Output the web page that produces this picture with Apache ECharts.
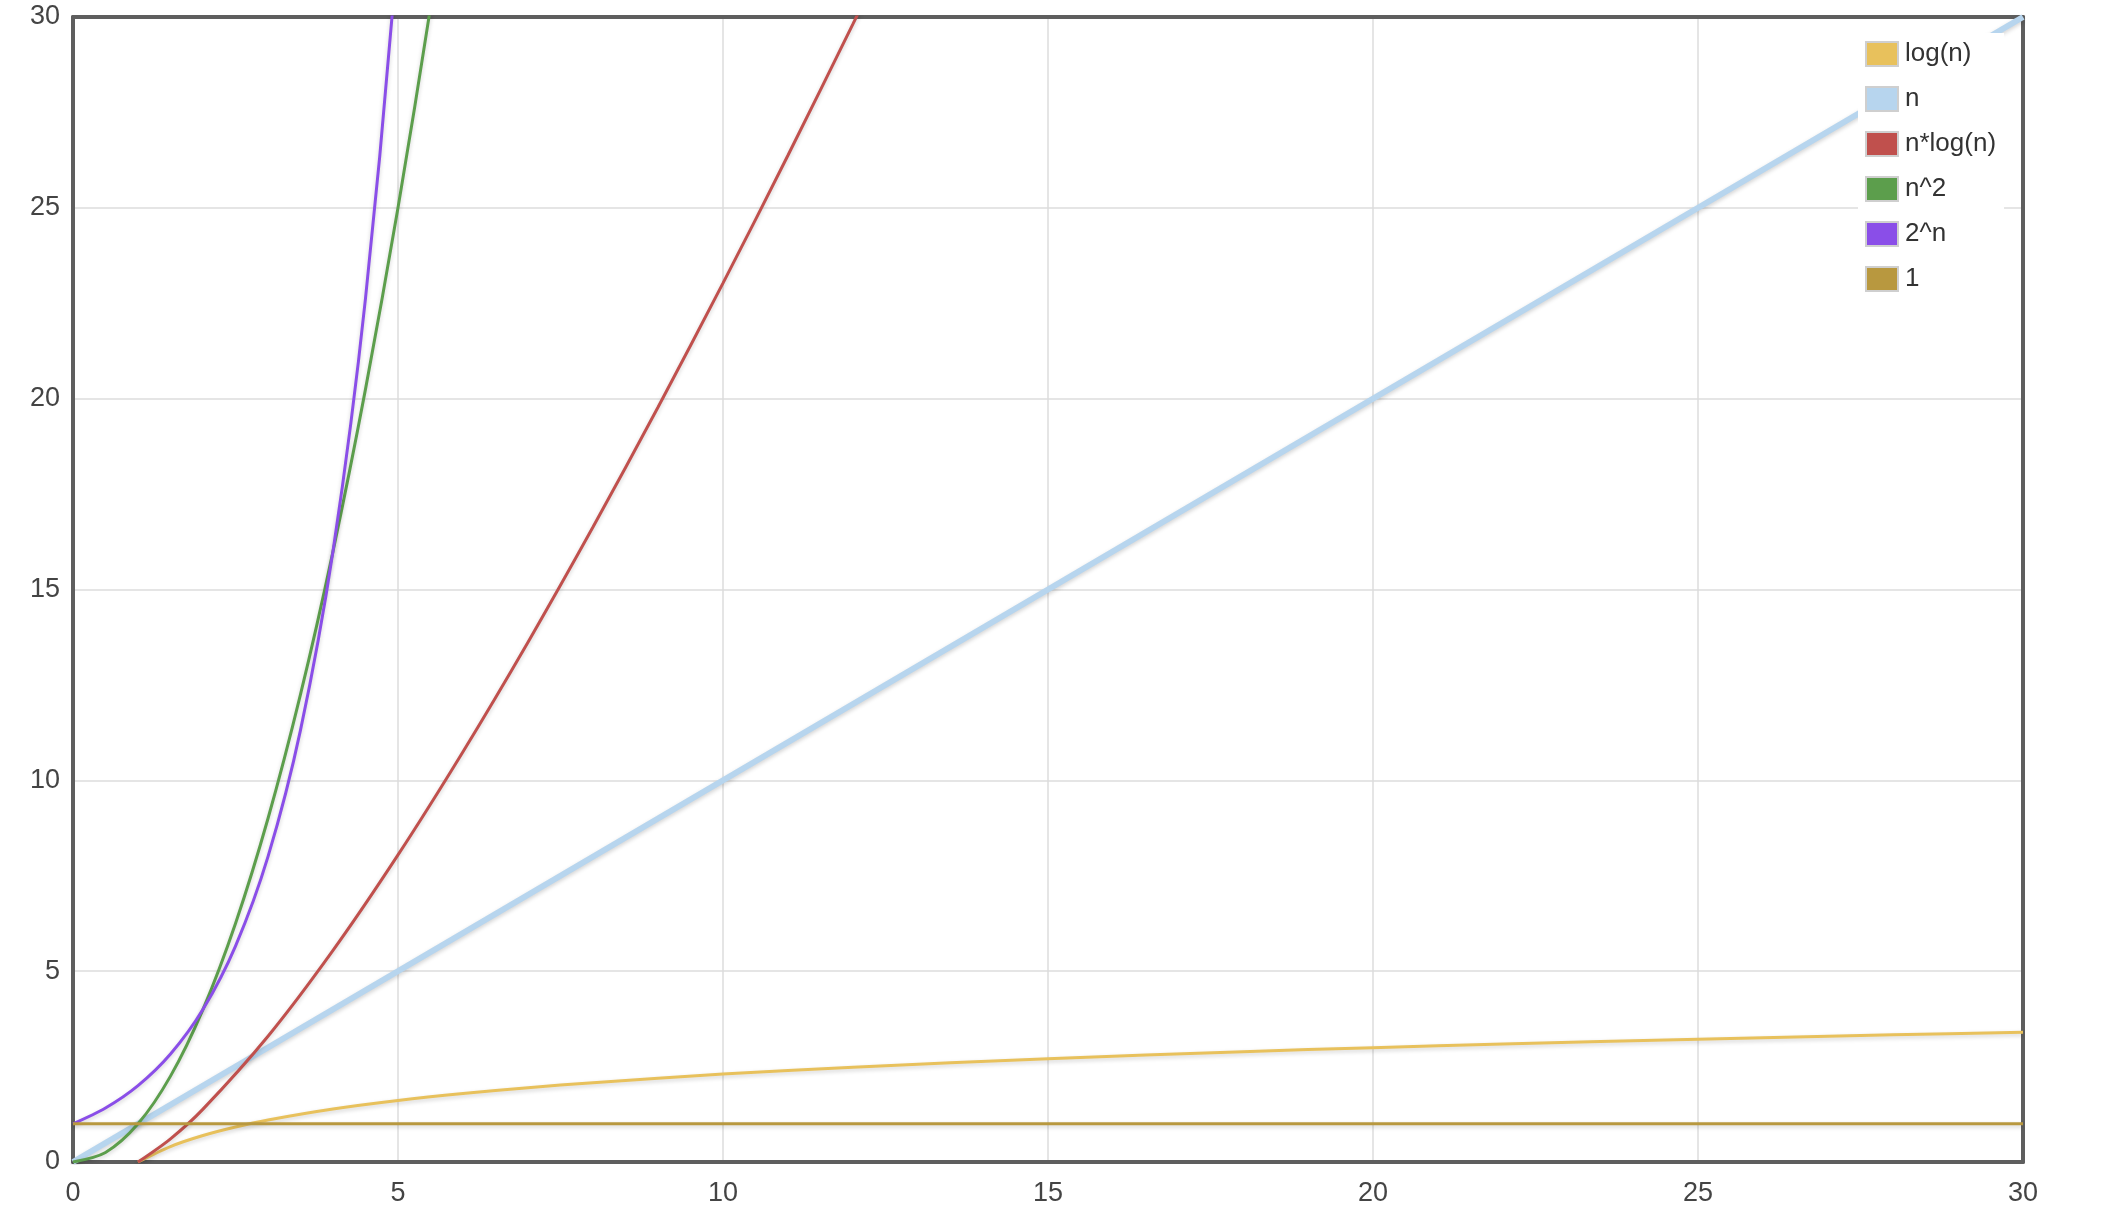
<!DOCTYPE html>
<html>
<head>
<meta charset="utf-8">
<script src="https://cdn.jsdelivr.net/npm/echarts@6/dist/echarts.min.js"></script>
<style>
  html, body { margin: 0; padding: 0; background: #fff; }
  #chart { width: 2106px; height: 1214px; }
</style>
</head>
<body>
<div id="chart"></div>
<script>
const seriesNames = ['log(n)', 'n', 'n*log(n)', 'n^2', '2^n', '1']
const colors = ['#e8c15c', '#b7d5ee', '#c0504d', '#5c9e4c', '#8a4ee8', '#b8983f']

const xTicks = [0, 5, 10, 15, 20, 25, 30]

// log(n)
const logX = [1, 1.5, 2, 2.5, 3, 4, 5, 6, 7, 8, 10, 12, 15, 18, 20, 22, 25, 28, 30]
const logY = [0, 0.405, 0.693, 0.916, 1.099, 1.386, 1.609, 1.792, 1.946, 2.079, 2.303, 2.485, 2.708, 2.89, 2.996, 3.091, 3.219, 3.332, 3.401]
// n
const linX = [0, 30]
const linY = [0, 30]
// n*log(n)
const nlogX = [1, 1.5, 2, 3, 4, 5, 6, 7, 8, 9, 10, 11, 12, 12.5]
const nlogY = [0, 0.608, 1.386, 3.296, 5.545, 8.047, 10.751, 13.621, 16.636, 19.775, 23.026, 26.377, 29.819, 31.572]
// n^2
const sqX = [0, 0.5, 1, 1.5, 2, 2.5, 3, 3.5, 4, 4.5, 5, 5.5, 6]
const sqY = [0, 0.25, 1, 2.25, 4, 6.25, 9, 12.25, 16, 20.25, 25, 30.25, 36]
// 2^n
const expX = [0, 0.5, 1, 1.5, 2, 2.5, 3, 3.5, 4, 4.5, 5, 5.5]
const expY = [1, 1.414, 2, 2.828, 4, 5.657, 8, 11.314, 16, 22.627, 32, 45.255]
// 1
const oneX = [0, 30]
const oneY = [1, 1]

const xs = [logX, linX, nlogX, sqX, expX, oneX]
const ys = [logY, linY, nlogY, sqY, expY, oneY]
const widths = [3, 6, 3, 3, 3, 3]

const chart = echarts.init(document.getElementById('chart'))

const series = seriesNames.map((name, i) => ({
  name: name,
  type: 'line',
  smooth: 0.3,
  showSymbol: false,
  symbol: 'none',
  clip: true,
  color: colors[i],
  lineStyle: {
    width: widths[i],
    color: colors[i],
    shadowColor: 'rgba(0,0,0,0.18)',
    shadowBlur: 4,
    shadowOffsetY: 2,
  },
  data: xs[i].map((x, k) => [x, ys[i][k]]),
}))

// frame lines on all four sides, drawn above the split lines
const frame = { show: true, onZero: false, lineStyle: { color: '#5e5e5e', width: 4 } }

chart.setOption({
  animation: false,
  grid: {
    left: 73,
    top: 17,
    right: 83,
    bottom: 52,
  },
  legend: {
    orient: 'vertical',
    left: 1858,
    top: 33,
    padding: [8, 8, 8, 7],
    backgroundColor: '#fff',
    icon: 'rect',
    itemWidth: 32,
    itemHeight: 24,
    itemGap: 19,
    itemStyle: { borderColor: '#cfcfcf', borderWidth: 2 },
    textStyle: { fontSize: 26, color: '#333', fontFamily: 'Liberation Sans', padding: [0, 0, 0, 2] },
    data: seriesNames,
  },
  xAxis: [
    {
      type: 'value',
      min: xTicks[0],
      max: xTicks[xTicks.length - 1],
      interval: 5,
      axisLine: frame,
      axisTick: { show: false },
      axisLabel: { fontSize: 27, color: '#444', margin: 18, fontFamily: 'Liberation Sans' },
      splitLine: { show: true, lineStyle: { color: '#dcdcdc', width: 1.5 } },
    },
    {
      type: 'value',
      position: 'top',
      min: 0,
      max: 30,
      interval: 5,
      axisLine: frame,
      axisTick: { show: false },
      axisLabel: { show: false },
      splitLine: { show: false },
    },
  ],
  yAxis: [
    {
      type: 'value',
      min: 0,
      max: 30,
      interval: 5,
      axisLine: frame,
      axisTick: { show: false },
      axisLabel: { fontSize: 27, color: '#444', margin: 13, fontFamily: 'Liberation Sans' },
      splitLine: { show: true, lineStyle: { color: '#dcdcdc', width: 1.5 } },
    },
    {
      type: 'value',
      position: 'right',
      min: 0,
      max: 30,
      interval: 5,
      axisLine: frame,
      axisTick: { show: false },
      axisLabel: { show: false },
      splitLine: { show: false },
    },
  ],
  series: series,
})
</script>
</body>
</html>
